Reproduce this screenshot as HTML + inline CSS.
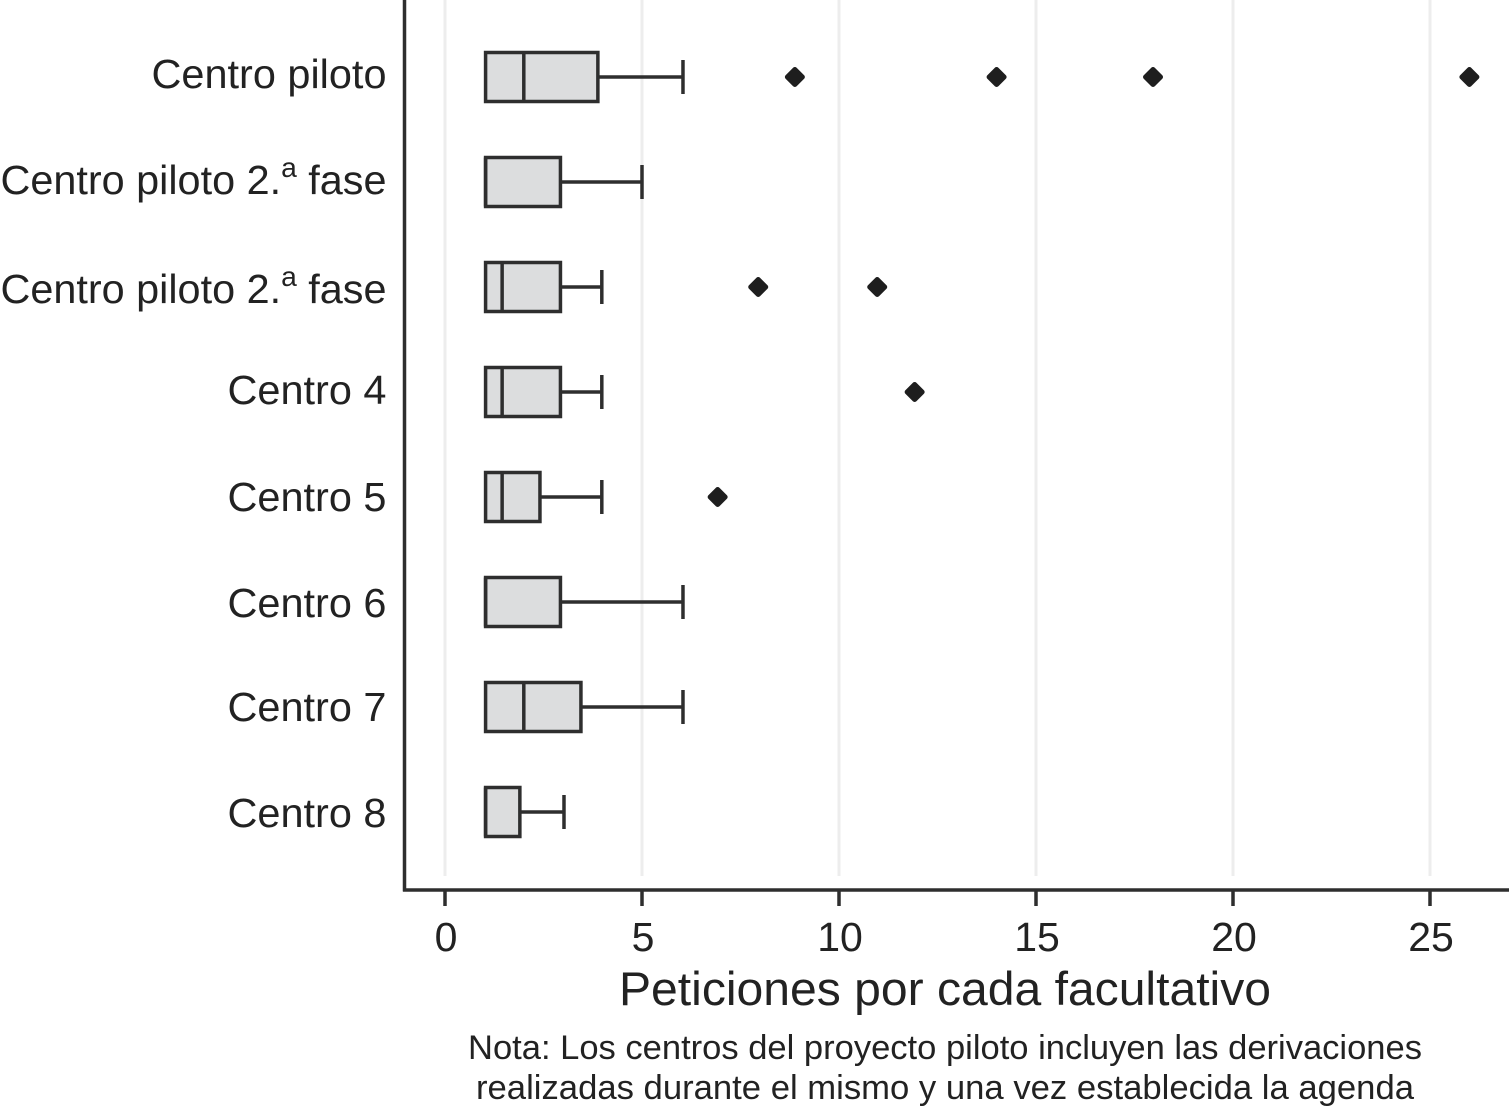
<!DOCTYPE html>
<html lang="es">
<head>
<meta charset="utf-8">
<title>Peticiones por cada facultativo</title>
<style>
html,body{margin:0;padding:0;background:#fff;}
svg{display:block;}
text{font-family:"Liberation Sans",Arial,sans-serif;fill:#222;}
.cat{font-size:41px;text-anchor:end;}
.tick-label{font-size:41px;text-anchor:middle;}
.sup{font-size:28px;}
</style>
</head>
<body>
<svg id="chart" xmlns="http://www.w3.org/2000/svg" width="1509" height="1108" viewBox="0 0 1509 1108">
  <g id="grid"></g>
  <g id="boxes"></g>
  <g id="axes"></g>
  <g>
    <text class="cat" x="386.5" y="88" textLength="235" lengthAdjust="spacingAndGlyphs">Centro piloto</text>
    <text class="cat" x="386.5" y="194" textLength="386" lengthAdjust="spacingAndGlyphs">Centro piloto 2.<tspan class="sup" dy="-17">a</tspan><tspan dy="17"> fase</tspan></text>
    <text class="cat" x="386.5" y="303" textLength="386" lengthAdjust="spacingAndGlyphs">Centro piloto 2.<tspan class="sup" dy="-17">a</tspan><tspan dy="17"> fase</tspan></text>
    <text class="cat" x="386.5" y="404" textLength="159" lengthAdjust="spacingAndGlyphs">Centro 4</text>
    <text class="cat" x="386.5" y="511" textLength="159" lengthAdjust="spacingAndGlyphs">Centro 5</text>
    <text class="cat" x="386.5" y="617" textLength="159" lengthAdjust="spacingAndGlyphs">Centro 6</text>
    <text class="cat" x="386.5" y="721" textLength="159" lengthAdjust="spacingAndGlyphs">Centro 7</text>
    <text class="cat" x="386.5" y="827" textLength="159" lengthAdjust="spacingAndGlyphs">Centro 8</text>
  </g>
  <text x="945" y="1005" font-size="47" text-anchor="middle" textLength="652" lengthAdjust="spacingAndGlyphs">Peticiones por cada facultativo</text>
  <text x="945" y="1059" font-size="34" text-anchor="middle" textLength="954" lengthAdjust="spacingAndGlyphs">Nota: Los centros del proyecto piloto incluyen las derivaciones</text>
  <text x="945" y="1099" font-size="34" text-anchor="middle" textLength="938" lengthAdjust="spacingAndGlyphs">realizadas durante el mismo y una vez establecida la agenda</text>
</svg>
<script>
const categories = ["Centro piloto", "Centro piloto 2.a fase", "Centro piloto 2.a fase (b)", "Centro 4", "Centro 5", "Centro 6", "Centro 7", "Centro 8"];
const q1Values = [1.03, 1.03, 1.03, 1.03, 1.03, 1.03, 1.03, 1.03];
const medianValues = [2, 1.03, 1.45, 1.45, 1.45, 1.03, 2, 1.03];
const q3Values = [3.88, 2.93, 2.93, 2.93, 2.41, 2.93, 3.45, 1.9];
const whiskerHighValues = [6.04, 5, 3.98, 3.98, 3.98, 6.04, 6.04, 3.02];
const outlierValues = [[8.88, 14, 17.97, 26], [], [7.95, 10.97], [11.92], [6.92], [], [], []];
const xTickValues = [0, 5, 10, 15, 20, 25];

const NS = "http://www.w3.org/2000/svg";
const INK = "#2e2e2e";
function xScale(v) { return 445 + v * 39.4; }
function yScale(i) { return 77 + i * 105; }
function make(tag, parent, attrs) {
  const el = document.createElementNS(NS, tag);
  for (const k in attrs) el.setAttribute(k, attrs[k]);
  parent.appendChild(el);
  return el;
}
const gridG = document.getElementById("grid");
const boxesG = document.getElementById("boxes");
const axesG = document.getElementById("axes");

xTickValues.forEach(function (t) {
  const x = xScale(t);
  const line = make("line", gridG, { x1: x, x2: x, y1: 0, y2: 876, stroke: "#ededed", "stroke-width": 3 });
  
  
});

const BOX_H = 49;
const CAP_H = 34;
const STROKE = 3.5;
categories.forEach(function (c, i) {
  const y = yScale(i);
  const g = make("g", boxesG, {});
  
  

  const whisker = make("line", g, { x1: xScale(q3Values[i]), x2: xScale(whiskerHighValues[i]), y1: y, y2: y, stroke: INK, "stroke-width": STROKE });
  
  

  const cap = make("line", g, { x1: xScale(whiskerHighValues[i]), x2: xScale(whiskerHighValues[i]), y1: y - CAP_H / 2, y2: y + CAP_H / 2, stroke: INK, "stroke-width": STROKE });
  
  

  const box = make("rect", g, { x: xScale(q1Values[i]), y: y - BOX_H / 2, width: xScale(q3Values[i]) - xScale(q1Values[i]), height: BOX_H, fill: "#dcddde", stroke: INK, "stroke-width": STROKE });
  
  

  const med = make("line", g, { x1: xScale(medianValues[i]), x2: xScale(medianValues[i]), y1: y - BOX_H / 2, y2: y + BOX_H / 2, stroke: INK, "stroke-width": STROKE });
  
  

  outlierValues[i].forEach(function (v) {
    const cx = xScale(v);
    const d = make("path", g, { d: "M" + cx + " " + (y - 7.5) + "L" + (cx + 7.5) + " " + y + "L" + cx + " " + (y + 7.5) + "L" + (cx - 7.5) + " " + y + "Z", fill: "#1e1e1e", stroke: "#1e1e1e", "stroke-width": 5, "stroke-linejoin": "round" });
    
    
  });
});

const yAxis = make("line", axesG, { x1: 404.5, x2: 404.5, y1: 0, y2: 891.5, stroke: INK, "stroke-width": 3.5 });



const xAxis = make("line", axesG, { x1: 403, x2: 1509, y1: 890, y2: 890, stroke: INK, "stroke-width": 3.5 });



xTickValues.forEach(function (t) {
  const x = xScale(t);
  const tick = make("line", axesG, { x1: x, x2: x, y1: 890, y2: 906, stroke: INK, "stroke-width": 3.5 });
  
  
  const label = make("text", axesG, { x: x + 1, y: 951, class: "tick-label" });
  
  
  label.textContent = String(t);
});
</script>
</body>
</html>
